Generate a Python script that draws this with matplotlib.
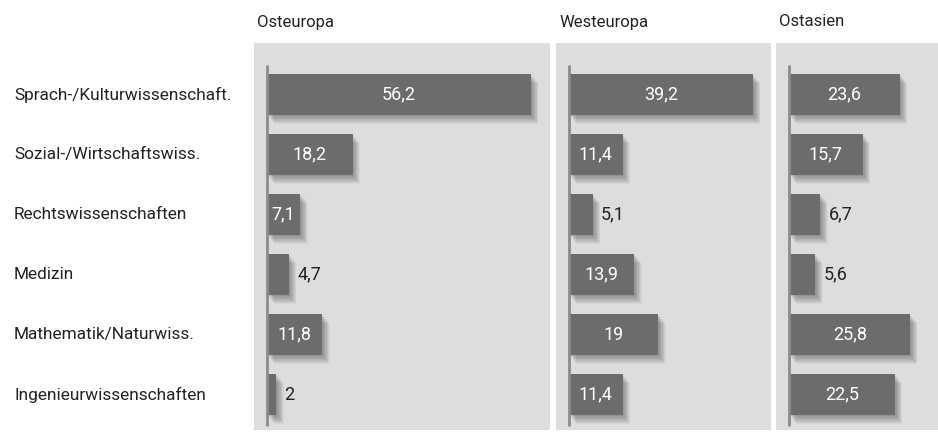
import numpy as np
import matplotlib.pyplot as plt

plt.rcParams['font.family'] = ['Roboto', 'DejaVu Sans']

categories = ['Sprach-/Kulturwissenschaft.', 'Sozial-/Wirtschaftswiss.', 'Rechtswissenschaften',
              'Medizin', 'Mathematik/Naturwiss.', 'Ingenieurwissenschaften']
regions = ['Osteuropa', 'Westeuropa', 'Ostasien']
osteuropa = [56.2, 18.2, 7.1, 4.7, 11.8, 2]
westeuropa = [39.2, 11.4, 5.1, 13.9, 19, 11.4]
ostasien = [23.6, 15.7, 6.7, 5.6, 25.8, 22.5]
values = [osteuropa, westeuropa, ostasien]

W, H = 938, 432
px_unit = 4.7     # pixels per percent
row_px = 60.0
panel_px = [(254, 550), (556, 771), (776, 938)]
panel_top, panel_bottom = 43, 430
row0_y = 94.5
bg = '#dcdddf'
bar_col = '#6b6c6e'

fig = plt.figure(figsize=(W / 100, H / 100), dpi=100)

def fmt(v):
    return ('%g' % v).replace('.', ',')

y = np.arange(len(categories))
for (x0, x1), region, vals in zip(panel_px, regions, values):
    ax = fig.add_axes([x0 / W, 1 - panel_bottom / H, (x1 - x0) / W, (panel_bottom - panel_top) / H])
    ax.set_facecolor(bg)
    for s in ax.spines.values():
        s.set_visible(False)
    ax.set_xticks([])
    ax.set_yticks([])
    ax.set_xlim(-13 / px_unit, (x1 - x0 - 13) / px_unit)
    ax.set_ylim((panel_bottom - row0_y) / row_px, -(row0_y - panel_top) / row_px)

    # soft drop shadow
    for k in range(1, 13):
        ax.barh(y + k * 0.75 / row_px, vals, left=k * 0.6 / px_unit, height=0.68,
                color='#4a4a4a', alpha=0.05, linewidth=0, zorder=1)
    ax.barh(y, vals, height=0.68, color=bar_col, linewidth=0, zorder=3)
    ax.plot([0, 0], [-0.5, 5.52], color='#8c8c8c', lw=2, zorder=4, solid_capstyle='butt')

    for yi, v in zip(y, vals):
        if v >= 7:
            ax.text(v / 2, yi, fmt(v), ha='center', va='center', color='white', fontsize=13, zorder=5)
        else:
            ax.text(v + 8 / px_unit, yi, fmt(v), ha='left', va='center', color='#222222', fontsize=13, zorder=5)

    fig.text((x0 + 3) / W, 1 - 22 / H, region, ha='left', va='center', fontsize=12, color='#222222')

for yi, cat in zip(y, categories):
    fig.text(14 / W, 1 - (row0_y + yi * row_px) / H, cat, ha='left', va='center', fontsize=12.4, color='#222222')

fig.savefig('out.png', dpi=100)
